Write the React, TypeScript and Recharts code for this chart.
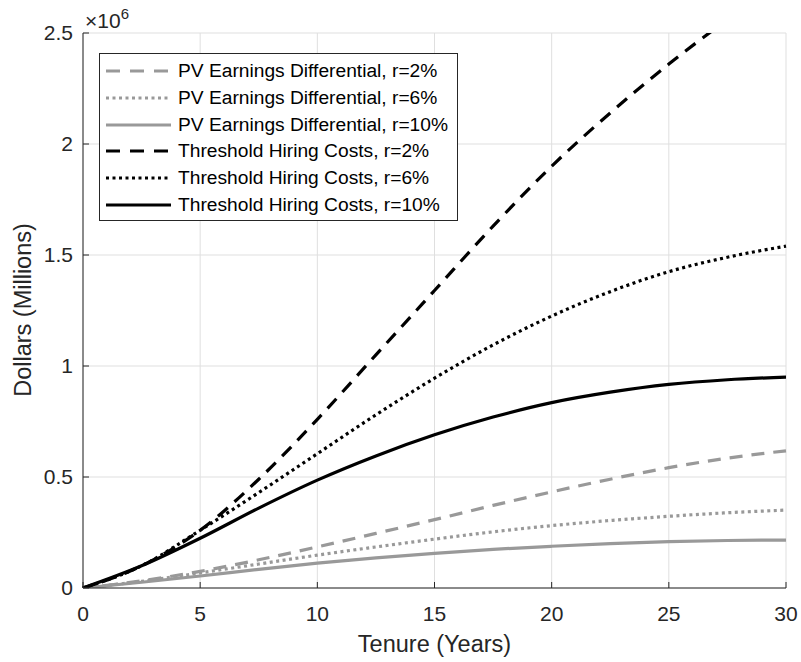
import React from 'react';
import { LineChart, Line, XAxis, YAxis, CartesianGrid, Legend } from 'recharts';

// Tenure (years)
const YEARS = [0, 2.5, 5, 7.5, 10, 12.5, 15, 17.5, 20, 22.5, 25, 27.5, 30];
// Values in millions of dollars
const PV_R2 = [0, 0.032, 0.075, 0.127, 0.185, 0.246, 0.308, 0.372, 0.433, 0.49, 0.542, 0.585, 0.618];
const PV_R6 = [0, 0.03, 0.068, 0.108, 0.148, 0.185, 0.22, 0.253, 0.281, 0.304, 0.323, 0.339, 0.351];
const PV_R10 = [0, 0.026, 0.054, 0.084, 0.112, 0.136, 0.156, 0.174, 0.188, 0.2, 0.209, 0.214, 0.216];
const TH_R2 = [0, 0.1, 0.26, 0.49, 0.76, 1.05, 1.34, 1.63, 1.9, 2.14, 2.36, 2.56, 2.74];
const TH_R6 = [0, 0.1, 0.26, 0.43, 0.605, 0.78, 0.945, 1.095, 1.225, 1.335, 1.425, 1.49, 1.54];
const TH_R10 = [0, 0.1, 0.224, 0.36, 0.486, 0.595, 0.69, 0.77, 0.835, 0.882, 0.917, 0.938, 0.95];

const X_TICKS = [0, 5, 10, 15, 20, 25, 30];
const Y_TICKS = [0, 0.5, 1, 1.5, 2, 2.5];

const SERIES_NAMES = [
  'PV Earnings Differential, r=2%',
  'PV Earnings Differential, r=6%',
  'PV Earnings Differential, r=10%',
  'Threshold Hiring Costs, r=2%',
  'Threshold Hiring Costs, r=6%',
  'Threshold Hiring Costs, r=10%',
];
const SERIES_KEYS = ['pv2', 'pv6', 'pv10', 'th2', 'th6', 'th10'];

const data = YEARS.map((t, i) => ({
  t,
  pv2: PV_R2[i],
  pv6: PV_R6[i],
  pv10: PV_R10[i],
  th2: TH_R2[i],
  th6: TH_R6[i],
  th10: TH_R10[i],
}));

const GRAY = '#999999';
const BLACK = '#000000';
const DASH = '13 9';
const DOT = '3 3.5';
const STYLES = [
  { color: GRAY, dash: DASH },
  { color: GRAY, dash: DOT },
  { color: GRAY, dash: undefined },
  { color: BLACK, dash: DASH },
  { color: BLACK, dash: DOT },
  { color: BLACK, dash: undefined },
];

const FONT = '"Liberation Sans", Arial, Helvetica, sans-serif';
const AXIS_COLOR = '#262626';
const LW = 3.2;

const LegendBox = () => (
  <div
    style={{
      boxSizing: 'border-box',
      width: 359,
      height: 168,
      border: `1px solid ${AXIS_COLOR}`,
      background: '#fff',
      fontFamily: FONT,
      fontSize: 19.2,
      color: '#000',
      paddingTop: 4,
    }}
  >
    {SERIES_NAMES.map((name, i) => (
      <div key={name} style={{ display: 'flex', alignItems: 'center', height: 26.67, whiteSpace: 'nowrap' }}>
        <svg width={78} height={10} style={{ flex: 'none' }}>
          <line
            x1={6}
            x2={71}
            y1={5}
            y2={5}
            stroke={STYLES[i].color}
            strokeWidth={LW}
            strokeDasharray={STYLES[i].dash === DASH ? '14 10' : STYLES[i].dash}
          />
        </svg>
        <span>{name}</span>
      </div>
    ))}
  </div>
);

const YLabel = () => (
  <g>
    <text
      x={23}
      y={310}
      transform="rotate(-90 23 310)"
      textAnchor="middle"
      dominantBaseline="central"
      fill={AXIS_COLOR}
      fontSize={23.5}
      fontFamily={FONT}
    >
      Dollars (Millions)
    </text>
    <text x={85} y={28} fill={AXIS_COLOR} fontSize={21} fontFamily={FONT}>
      ×10
      <tspan dy={-9} fontSize={15}>6</tspan>
    </text>
  </g>
);

const XLabel = () => (
  <text x={434.5} y={652} textAnchor="middle" fill={AXIS_COLOR} fontSize={23.5} fontFamily={FONT}>
    Tenure (Years)
  </text>
);

export default function App() {
  const tickStyle = { fill: AXIS_COLOR, fontSize: 21, fontFamily: FONT };
  return (
    <div style={{ position: 'absolute', left: 0, top: 0, width: 801, height: 662, background: '#fff' }}>
      <LineChart
        width={801}
        height={662}
        data={data}
        margin={{ top: 33, right: 15, left: 0, bottom: 0 }}
        style={{ fontFamily: FONT }}
      >
        <CartesianGrid stroke="#dfdfdf" strokeWidth={1} />
        <XAxis
          dataKey="t"
          type="number"
          domain={[0, 30]}
          ticks={X_TICKS}
          height={74}
          axisLine={{ stroke: AXIS_COLOR }}
          tickLine={{ stroke: AXIS_COLOR }}
          tickSize={-6}
          tickMargin={24}
          tick={tickStyle}
          interval={0}
          label={<XLabel />}
        />
        <XAxis
          xAxisId="top"
          orientation="top"
          type="number"
          domain={[0, 30]}
          ticks={X_TICKS}
          height={0}
          axisLine={{ stroke: AXIS_COLOR }}
          tickLine={{ stroke: AXIS_COLOR }}
          tickSize={-6}
          tick={false}
        />
        <YAxis
          type="number"
          domain={[0, 2.5]}
          ticks={Y_TICKS}
          allowDataOverflow
          width={83}
          axisLine={{ stroke: AXIS_COLOR }}
          tickLine={{ stroke: AXIS_COLOR }}
          tickSize={-6}
          tickMargin={16}
          tick={tickStyle}
          interval={0}
          label={<YLabel />}
        />
        <YAxis
          yAxisId="right"
          orientation="right"
          type="number"
          domain={[0, 2.5]}
          ticks={Y_TICKS}
          width={0}
          axisLine={{ stroke: AXIS_COLOR }}
          tickLine={{ stroke: AXIS_COLOR }}
          tickSize={-6}
          tick={false}
        />
        {SERIES_KEYS.map((k, i) => (
          <Line
            key={k}
            dataKey={k}
            name={SERIES_NAMES[i]}
            type="monotone"
            stroke={STYLES[i].color}
            strokeWidth={LW}
            strokeDasharray={STYLES[i].dash}
            dot={false}
            activeDot={false}
            isAnimationActive={false}
          />
        ))}
        <Legend
          layout="horizontal"
          verticalAlign="middle"
          align="center"
          content={<LegendBox />}
          wrapperStyle={{ position: 'absolute', left: 99, top: 53, width: 359, height: 168 }}
        />
      </LineChart>
    </div>
  );
}
